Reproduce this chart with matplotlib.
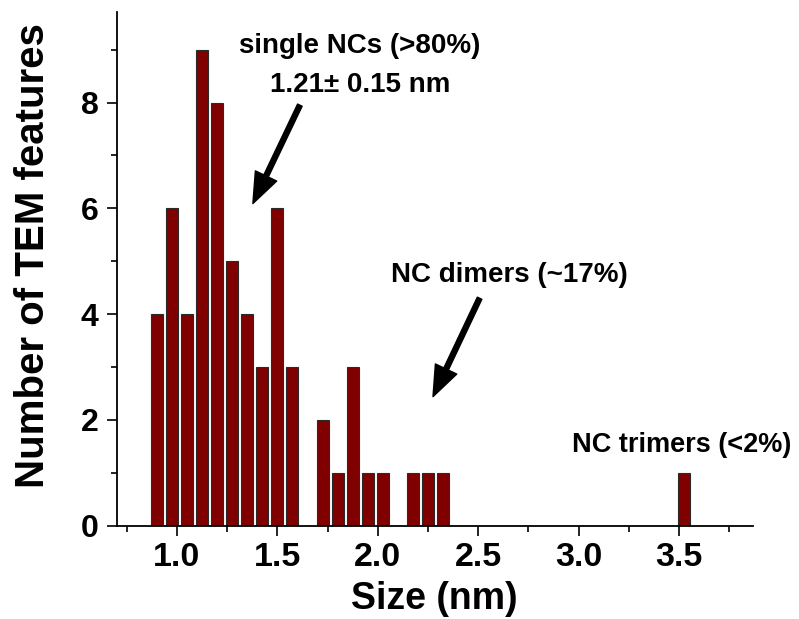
import numpy as np
import matplotlib
matplotlib.use("Agg")
import matplotlib.pyplot as plt
from matplotlib.ticker import MultipleLocator

plt.rcParams['font.family'] = ['Liberation Sans', 'DejaVu Sans']
plt.rcParams['font.weight'] = 'bold'

# histogram of feature sizes (bin centres in nm) and counts per bin
sizes = [0.900, 0.975, 1.050, 1.125, 1.200, 1.275, 1.350, 1.425, 1.500, 1.575,
         1.725, 1.800, 1.875, 1.950, 2.025, 2.175, 2.250, 2.325, 3.525]
counts = [4, 6, 4, 9, 8, 5, 4, 3, 6, 3,
          2, 1, 3, 1, 1, 1, 1, 1, 1]

x_ticks = [1.0, 1.5, 2.0, 2.5, 3.0, 3.5]
y_ticks = [0, 2, 4, 6, 8]

fig = plt.figure(figsize=(7.99, 6.19), dpi=100)
ax = fig.add_axes([0.1461, 0.1507, 0.7967, 0.8307])

ax.bar(sizes, counts, width=0.06, color='#800000', edgecolor='#2a2a2a', linewidth=0.8, zorder=2)

ax.set_xlim(0.7, 3.87)
ax.set_ylim(0, 9.72)
ax.set_xticks(x_ticks)
ax.set_xticklabels([f'{v:.1f}' for v in x_ticks])
ax.set_yticks(y_ticks)
ax.xaxis.set_minor_locator(MultipleLocator(0.25))
ax.yaxis.set_minor_locator(MultipleLocator(1))

for side in ['top', 'right']:
    ax.spines[side].set_visible(False)
for side in ['left', 'bottom']:
    ax.spines[side].set_linewidth(1.3)

ax.tick_params(axis='both', which='major', direction='out', length=7, width=1.2)
ax.tick_params(axis='both', which='minor', direction='out', length=4.5, width=1.2)
ax.tick_params(axis='x', which='major', labelsize=24.5, pad=5)
ax.tick_params(axis='y', which='major', labelsize=23, pad=6)

fig.text(434 / 799, 1 - 609 / 619, 'Size (nm)', fontsize=27, fontweight='bold',
         ha='center', va='baseline')
fig.text(33 / 799, 1 - 256 / 619, 'Number of TEM features', fontsize=29, fontweight='bold',
         rotation=90, ha='center', va='center')

# annotations for the three populations
ax.text(1.910, 8.93, 'single NCs (>80%)', fontsize=20, ha='center', va='baseline')
ax.text(1.910, 8.19, '1.21\u00b1 0.15 nm', fontsize=20, ha='center', va='baseline')
ax.text(2.653, 4.61, 'NC dimers (~17%)', fontsize=20, ha='center', va='baseline')
ax.text(3.512, 1.40, 'NC trimers (<2%)', fontsize=19.5, ha='center', va='baseline')

arrow = dict(facecolor='black', edgecolor='black', width=3.6, headwidth=17, headlength=22, shrink=0)
ax.annotate('', xy=(1.378, 6.09), xytext=(1.612, 7.95), arrowprops=arrow)
ax.annotate('', xy=(2.275, 2.44), xytext=(2.507, 4.30), arrowprops=arrow)

fig.savefig('out.png', dpi=100)
